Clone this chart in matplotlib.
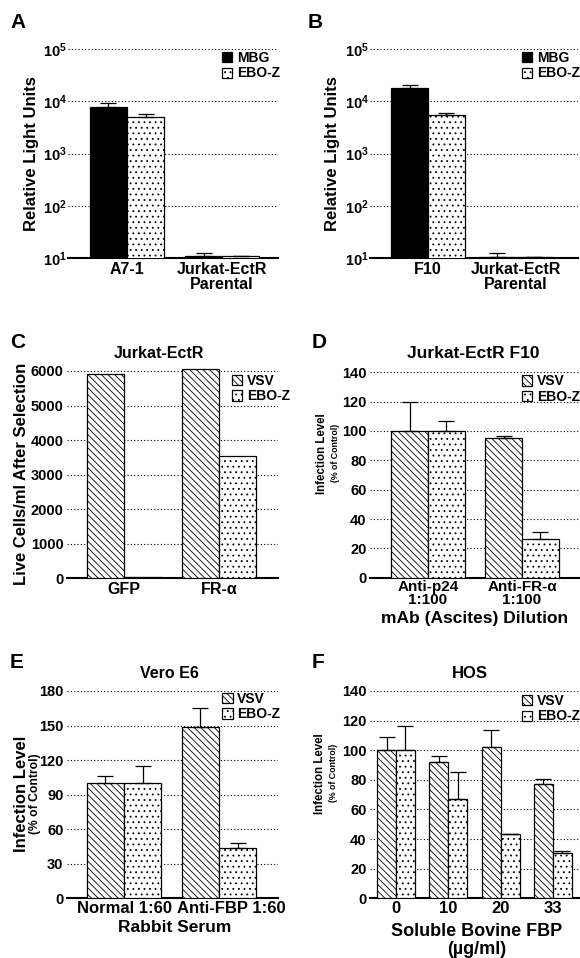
import numpy as np
import matplotlib
matplotlib.use("Agg")
import matplotlib.pyplot as plt
from matplotlib import font_manager
from matplotlib.transforms import ScaledTranslation

# ======================================================
# DATOS
# ======================================================

A_grupos = ["A7-1", "Jurkat-EctR\nParental"]
A_mbg = [7800, 11]
A_mbg_err = [1300, 1.6]
A_ebo = [4950, 11]
A_ebo_err = [650, 0]

B_grupos = ["F10", "Jurkat-EctR\nParental"]
B_mbg = [18200, 10.5]
B_mbg_err = [2500, 2.0]
B_ebo = [5400, 10.5]
B_ebo_err = [600, 0]

C_grupos = ["GFP", "FR-α"]
C_vsv = [5900, 6050]
C_ebo = [30, 3540]

D_grupos = ["Anti-p24\n1:100", "Anti-FR-α\n1:100"]
D_vsv = [100, 95.5]
D_vsv_err = [20, 1]
D_ebo = [100, 26.5]
D_ebo_err = [7, 4.5]

E_grupos = ["Normal 1:60", "Anti-FBP 1:60"]
E_vsv = [100, 148.5]
E_vsv_err = [6, 17]
E_ebo = [100, 44]
E_ebo_err = [15, 4]

F_grupos = ["0", "10", "20", "33"]
F_vsv = [100, 92, 102, 77.5]
F_vsv_err = [8.7, 4.4, 11.7, 3]
F_ebo = [100, 67, 43.2, 30.8]
F_ebo_err = [16.6, 18.6, 0.3, 1.4]

log_ticks = [10, 100, 1000, 10000, 100000]
log_labels = [r"$\mathbf{10^{1}}$", r"$\mathbf{10^{2}}$", r"$\mathbf{10^{3}}$",
              r"$\mathbf{10^{4}}$", r"$\mathbf{10^{5}}$"]

# ======================================================
# ESTILO
# ======================================================

plt.rcParams["font.family"] = ["Liberation Sans", "DejaVu Sans"]
plt.rcParams["font.weight"] = "bold"
plt.rcParams["mathtext.fontset"] = "custom"
plt.rcParams["mathtext.rm"] = "Liberation Sans"
plt.rcParams["mathtext.bf"] = "Liberation Sans:bold"
plt.rcParams["hatch.linewidth"] = 0.6
plt.rcParams["hatch.color"] = "black"

nombres = {f.name for f in font_manager.fontManager.ttflist}
narrow = "Liberation Sans Narrow" in nombres

W, H = 580, 958
fig = plt.figure(figsize=(W / 100, H / 100), dpi=100)


def ejes(x0, x1, ytop, ybot):
    return fig.add_axes([x0 / W, 1 - ybot / H, (x1 - x0) / W, (ybot - ytop) / H])


def texto(x, y, s, **kw):
    return fig.text(x / W, 1 - y / H, s, **kw)


def preparar(ax):
    for lado in ["left", "top", "right"]:
        ax.spines[lado].set_visible(False)
    ax.spines["bottom"].set_linewidth(1.5)
    ax.tick_params(axis="both", length=0, labelsize=10.5)
    ax.tick_params(axis="y", pad=2.5)
    ax.tick_params(axis="x", pad=3, labelsize=11.5)
    ax.yaxis.grid(True, color="black", linestyle=(0, (1, 2)), linewidth=0.8)
    ax.set_axisbelow(True)


def barras(ax, x, v1, v2, ancho, h1, h2, e1=None, e2=None):
    x = np.arange(len(x))
    ax.bar(x - ancho / 2, v1, ancho, color=h1[0], hatch=h1[1],
           edgecolor="black", linewidth=0.9, zorder=3, label=h1[2])
    ax.bar(x + ancho / 2, v2, ancho, color=h2[0], hatch=h2[1],
           edgecolor="black", linewidth=0.9, zorder=3, label=h2[2])
    if e1 is not None:
        ax.errorbar(x - ancho / 2, v1, yerr=[np.zeros(len(x)), e1], fmt="none",
                    ecolor="black", elinewidth=0.9, capsize=6, capthick=0.9, zorder=4)
    if e2 is not None:
        ax.errorbar(x + ancho / 2, v2, yerr=[np.zeros(len(x)), e2], fmt="none",
                    ecolor="black", elinewidth=0.9, capsize=6, capthick=0.9, zorder=4)


def leyenda(ax, x, y):
    ax.legend(loc="upper left", bbox_to_anchor=(x, y), frameon=False,
              prop={"weight": "bold", "size": 10}, borderaxespad=0, borderpad=0,
              handlelength=0.75, handleheight=0.75, handletextpad=0.35,
              labelspacing=0.1)


def etiquetas_x(ax, grupos, esp=1.0):
    ax.set_xticks(np.arange(len(grupos)))
    ax.set_xticklabels(grupos, fontweight="bold")
    for lbl in ax.get_xticklabels():
        lbl.set_linespacing(esp)


solido = ("black", None, "MBG")
puntos = ("white", "...", "EBO-Z")
rayas = ("white", "\\\\\\\\\\", "VSV")

# ======================================================
# PANEL A
# ======================================================

ax = ejes(68, 278, 49, 258)
preparar(ax)
ax.set_yscale("log", nonpositive="clip")
barras(ax, A_grupos, A_mbg, A_ebo, 0.39, solido, puntos, A_mbg_err, A_ebo_err)
ax.set_ylim(10, 1e5)
ax.set_xlim(-0.621, 1.589)
ax.yaxis.set_minor_locator(plt.NullLocator())
ax.set_yticks(log_ticks)
ax.set_yticklabels(log_labels)
ax.tick_params(axis="y", pad=1)
etiquetas_x(ax, A_grupos)
leyenda(ax, 0.733, 0.99)
texto(32, 153.5, "Relative Light Units", rotation=90, ha="center", va="center",
      fontsize=12, fontweight="bold")
texto(10, 22, "A", fontsize=15, fontweight="bold", va="center")

# ======================================================
# PANEL B
# ======================================================

ax = ejes(370, 578, 49, 258)
preparar(ax)
ax.set_yscale("log", nonpositive="clip")
barras(ax, B_grupos, B_mbg, B_ebo, 0.42, solido, puntos, B_mbg_err, B_ebo_err)
ax.set_ylim(10, 1e5)
ax.set_xlim(-0.659, 1.705)
ax.yaxis.set_minor_locator(plt.NullLocator())
ax.set_yticks(log_ticks)
ax.set_yticklabels(log_labels)
ax.tick_params(axis="y", pad=1)
etiquetas_x(ax, B_grupos)
leyenda(ax, 0.729, 0.99)
texto(333, 153.5, "Relative Light Units", rotation=90, ha="center", va="center",
      fontsize=12, fontweight="bold")
texto(308, 22, "B", fontsize=15, fontweight="bold", va="center")

# ======================================================
# PANEL C
# ======================================================

ax = ejes(67, 278, 367.5, 578.3)
preparar(ax)
barras(ax, C_grupos, C_vsv, C_ebo, 0.39, rayas, puntos)
ax.set_ylim(0, 6100)
ax.set_xlim(-0.6, 1.621)
ax.set_yticks([0, 1000, 2000, 3000, 4000, 5000, 6000])
etiquetas_x(ax, C_grupos)
leyenda(ax, 0.782, 0.969)
texto(159, 353, "Jurkat-EctR", ha="center", va="center", fontsize=11.5,
      fontweight="bold")
texto(22, 474, "Live Cells/ml After Selection", rotation=90, ha="center",
      va="center", fontsize=12, fontweight="bold")
texto(10, 342, "C", fontsize=15, fontweight="bold", va="center")

# ======================================================
# PANEL D
# ======================================================

if narrow:
    fam_est = ["Liberation Sans Narrow", "Liberation Sans"]
    t1, t2 = 10.5, 7.5
else:
    fam_est = ["Liberation Sans", "DejaVu Sans"]
    t1, t2 = 8.3, 6.3

ax = ejes(370, 580, 372.3, 577.7)
preparar(ax)
barras(ax, D_grupos, D_vsv, D_ebo, 0.39, rayas, puntos, D_vsv_err, D_ebo_err)
ax.set_ylim(0, 140)
ax.set_xlim(-0.617, 1.617)
ax.set_yticks([0, 20, 40, 60, 80, 100, 120, 140])
etiquetas_x(ax, D_grupos, 0.9)
ax.tick_params(axis="x", labelsize=11, pad=2)
leyenda(ax, 0.724, 0.99)
texto(473.5, 354, "Jurkat-EctR F10", ha="center", va="center", fontsize=12.5,
      fontweight="bold")
texto(475, 619, "mAb (Ascites) Dilution", ha="center", va="center",
      fontsize=12.5, fontweight="bold")
texto(322, 454, "Infection Level", rotation=90, ha="center", va="center",
      fontsize=t1, fontweight="bold", family=fam_est)
texto(335, 453, "(% of Control)", rotation=90, ha="center", va="center",
      fontsize=t2, fontweight="bold", family=fam_est)
texto(312, 342, "D", fontsize=15, fontweight="bold", va="center")

# ======================================================
# PANEL E
# ======================================================

ax = ejes(67, 278, 691, 898.3)
preparar(ax)
barras(ax, E_grupos, E_vsv, E_ebo, 0.39, rayas, puntos, E_vsv_err, E_ebo_err)
ax.set_ylim(0, 180)
ax.set_xlim(-0.6, 1.621)
ax.set_yticks([0, 30, 60, 90, 120, 150, 180])
etiquetas_x(ax, E_grupos)
ax.tick_params(axis="x", labelsize=12, pad=2)
# la segunda etiqueta esta desplazada a la derecha en el original
lbl = ax.get_xticklabels()[1]
lbl.set_transform(lbl.get_transform() + ScaledTranslation(0.12, 0, fig.dpi_scale_trans))
leyenda(ax, 0.735, 0.995)
texto(169, 673, "Vero E6", ha="center", va="center", fontsize=11.5,
      fontweight="bold")
texto(175, 927, "Rabbit Serum", ha="center", va="center", fontsize=12.5,
      fontweight="bold")
texto(22, 794, "Infection Level", rotation=90, ha="center", va="center",
      fontsize=12, fontweight="bold")
texto(35, 794, "(% of Control)", rotation=90, ha="center", va="center",
      fontsize=8.7, fontweight="bold")
texto(10, 662, "E", fontsize=15, fontweight="bold", va="center")

# ======================================================
# PANEL F
# ======================================================

ax = ejes(370, 580, 691, 898.3)
preparar(ax)
barras(ax, F_grupos, F_vsv, F_ebo, 0.363, rayas, puntos, F_vsv_err, F_ebo_err)
ax.set_ylim(0, 140)
ax.set_xlim(-0.497, 3.518)
ax.set_yticks([0, 20, 40, 60, 80, 100, 120, 140])
etiquetas_x(ax, F_grupos)
ax.tick_params(axis="x", labelsize=12, pad=2)
leyenda(ax, 0.724, 0.985)
texto(470, 673, "HOS", ha="center", va="center", fontsize=12,
      fontweight="bold")
texto(477, 931, "Soluble Bovine FBP", ha="center", va="center", fontsize=13,
      fontweight="bold")
texto(477, 949, "(µg/ml)", ha="center", va="center", fontsize=13,
      fontweight="bold")
texto(320, 774, "Infection Level", rotation=90, ha="center", va="center",
      fontsize=t1, fontweight="bold", family=fam_est)
texto(334, 773, "(% of Control)", rotation=90, ha="center", va="center",
      fontsize=t2, fontweight="bold", family=fam_est)
texto(312, 662, "F", fontsize=15, fontweight="bold", va="center")

plt.savefig("out.png", dpi=100)
